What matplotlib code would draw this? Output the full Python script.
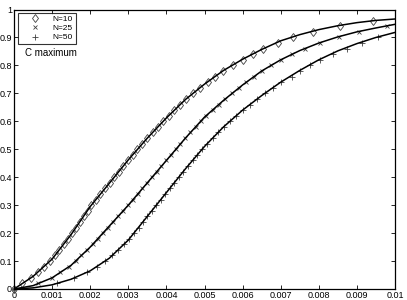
import matplotlib.pyplot as plt

plt.rcParams['font.family'] = ['Liberation Sans', 'DejaVu Sans']

# smooth curves, every 0.0005
x_line = [0, 0.0005, 0.001, 0.0015, 0.002, 0.0025, 0.003, 0.0035, 0.004, 0.0045, 0.005,
          0.0055, 0.006, 0.0065, 0.007, 0.0075, 0.008, 0.0085, 0.009, 0.0095, 0.01]
c_n10 = [0, 0.045, 0.107, 0.195, 0.295, 0.378, 0.462, 0.540, 0.612, 0.678, 0.733,
         0.782, 0.822, 0.857, 0.888, 0.910, 0.928, 0.942, 0.953, 0.961, 0.966]
c_n25 = [0, 0.012, 0.040, 0.085, 0.150, 0.225, 0.300, 0.380, 0.460, 0.540, 0.615,
         0.675, 0.730, 0.780, 0.820, 0.853, 0.880, 0.902, 0.920, 0.934, 0.947]
c_n50 = [0, 0.004, 0.015, 0.035, 0.065, 0.110, 0.175, 0.260, 0.345, 0.430, 0.510,
         0.580, 0.640, 0.692, 0.740, 0.782, 0.820, 0.852, 0.878, 0.900, 0.918]

# simulated points, one every 0.02 in probability
p_n10 = [0, 0.02, 0.04, 0.06, 0.08, 0.10, 0.12, 0.14, 0.16, 0.18, 0.20, 0.22, 0.24, 0.26,
         0.28, 0.30, 0.32, 0.34, 0.36, 0.38, 0.40, 0.42, 0.44, 0.46, 0.48, 0.50, 0.52,
         0.54, 0.56, 0.58, 0.60, 0.62, 0.64, 0.66, 0.68, 0.70, 0.72, 0.74, 0.76, 0.78,
         0.80, 0.82, 0.84, 0.86, 0.88, 0.90, 0.92, 0.94, 0.96]
x_n10 = [0, 0.00022, 0.00044, 0.00062, 0.00078, 0.00094, 0.00107, 0.00119, 0.00130,
         0.00142, 0.00153, 0.00163, 0.00173, 0.00183, 0.00193, 0.00203, 0.00215, 0.00227,
         0.00239, 0.00251, 0.00263, 0.00275, 0.00287, 0.00299, 0.00312, 0.00324, 0.00337,
         0.00350, 0.00364, 0.00378, 0.00392, 0.00406, 0.00421, 0.00436, 0.00452, 0.00470,
         0.00488, 0.00510, 0.00528, 0.00549, 0.00576, 0.00602, 0.00628, 0.00654, 0.00694,
         0.00733, 0.00786, 0.00856, 0.00943]

p_n25 = [0, 0.02, 0.04, 0.06, 0.08, 0.10, 0.12, 0.14, 0.16, 0.18, 0.20, 0.22, 0.24, 0.26,
         0.28, 0.30, 0.32, 0.34, 0.36, 0.38, 0.40, 0.42, 0.44, 0.46, 0.48, 0.50, 0.52,
         0.54, 0.56, 0.58, 0.60, 0.62, 0.64, 0.66, 0.68, 0.70, 0.72, 0.74, 0.76, 0.78,
         0.80, 0.82, 0.84, 0.86, 0.88, 0.90, 0.92, 0.94]
x_n25 = [0, 0.00064, 0.00100, 0.00122, 0.00144, 0.00162, 0.00177, 0.00192, 0.00207,
         0.00220, 0.00233, 0.00247, 0.00260, 0.00273, 0.00287, 0.00300, 0.00312, 0.00325,
         0.00337, 0.00350, 0.00362, 0.00375, 0.00387, 0.00400, 0.00412, 0.00425, 0.00437,
         0.00450, 0.00463, 0.00477, 0.00490, 0.00504, 0.00521, 0.00537, 0.00554, 0.00573,
         0.00591, 0.00610, 0.00630, 0.00650, 0.00675, 0.00700, 0.00730, 0.00765, 0.00803,
         0.00852, 0.00905, 0.00980]

p_n50 = [0, 0.02, 0.04, 0.06, 0.08, 0.10, 0.12, 0.14, 0.16, 0.18, 0.20, 0.22, 0.24, 0.26,
         0.28, 0.30, 0.32, 0.34, 0.36, 0.38, 0.40, 0.42, 0.44, 0.46, 0.48, 0.50, 0.52,
         0.54, 0.56, 0.58, 0.60, 0.62, 0.64, 0.66, 0.68, 0.70, 0.72, 0.74, 0.76, 0.78,
         0.80, 0.82, 0.84, 0.86, 0.88, 0.90]
x_n50 = [0, 0.00113, 0.00158, 0.00192, 0.00217, 0.00239, 0.00258, 0.00273, 0.00289,
         0.00303, 0.00315, 0.00327, 0.00338, 0.00350, 0.00362, 0.00374, 0.00385, 0.00397,
         0.00409, 0.00421, 0.00432, 0.00444, 0.00456, 0.00469, 0.00481, 0.00494, 0.00507,
         0.00521, 0.00536, 0.00550, 0.00567, 0.00583, 0.00600, 0.00619, 0.00639, 0.00658,
         0.00679, 0.00700, 0.00729, 0.00751, 0.00777, 0.00803, 0.00836, 0.00873, 0.00913,
         0.00956]

x_ticks = [0, 0.001, 0.002, 0.003, 0.004, 0.005, 0.006, 0.007, 0.008, 0.009, 0.01]
x_labels = ['0', '0.001', '0.002', '0.003', '0.004', '0.005', '0.006', '0.007', '0.008',
            '0.009', '0.01']
y_ticks = [0, 0.1, 0.2, 0.3, 0.4, 0.5, 0.6, 0.7, 0.8, 0.9, 1]
y_labels = ['0', '0.1', '0.2', '0.3', '0.4', '0.5', '0.6', '0.7', '0.8', '0.9', '1']

fig = plt.figure(figsize=(4.07, 3.0), dpi=100)
ax = fig.add_axes([14 / 407, 11 / 300, 381 / 407, 279.5 / 300])

mk = dict(linestyle='none', color='0.25', mfc='none', mew=0.6, clip_on=False)
ax.plot(x_n10, p_n10, marker='d', ms=4.5, label='N=10', **mk)
ax.plot(x_n25, p_n25, marker='x', ms=3.5, label='N=25', **mk)
ax.plot(x_n50, p_n50, marker='+', ms=4.5, label='N=50', **mk)

for c in [c_n10, c_n25, c_n50]:
    ax.plot(x_line, c, color='k', lw=1.1)

ax.set_xlim(0, 0.01)
ax.set_ylim(0, 1)
ax.set_xticks(x_ticks)
ax.set_xticklabels(x_labels)
ax.set_yticks(y_ticks)
ax.set_yticklabels(y_labels)
ax.tick_params(direction='in', length=3, width=0.6, top=True, right=True,
               labelsize=6.5, pad=1.5, colors='k')
for s in ax.spines.values():
    s.set_linewidth(0.9)

leg = ax.legend(loc='upper left', bbox_to_anchor=(0.011, 0.989), borderaxespad=0,
                fancybox=False, edgecolor='k', fontsize=6, handlelength=3.3,
                borderpad=0.35, labelspacing=0.15, handletextpad=0.5)
leg.get_frame().set_linewidth(0.8)

ax.text(0.029, 0.843, 'C maximum', transform=ax.transAxes, fontsize=7, va='center')

fig.savefig('out.png', dpi=100)
